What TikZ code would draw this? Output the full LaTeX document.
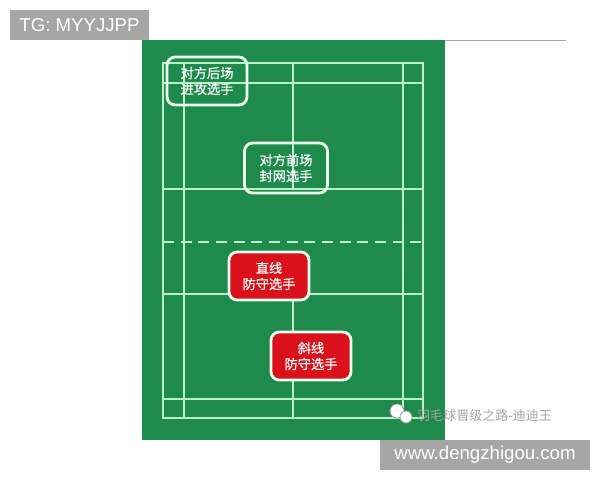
\documentclass[tikz,border=0pt]{standalone}
\usepackage{fontspec}
\setmainfont{Liberation Sans}
\newfontfamily\cjk[FakeBold=0.7]{Noto Sans CJK SC}
\newfontfamily\cjklight{Noto Sans CJK SC}
\usepackage{tikz}
\usetikzlibrary{positioning}
\definecolor{courtgreen}{RGB}{30,138,76}
\definecolor{courtline}{RGB}{185,240,200}
\definecolor{boxline}{RGB}{235,252,240}
\definecolor{defred}{RGB}{218,16,26}
\definecolor{tagbg}{RGB}{166,166,166}

\begin{document}
\begin{tikzpicture}[
  x=0.03cm, y=-0.03cm,
  court/.style={draw=courtline, line width=1.7pt},
  playerbox/.style={draw=boxline, line width=2.4pt, rounded corners=7pt, align=center,
                text=white, minimum width=2.4cm, minimum height=1.44cm, inner sep=0pt,
                font=\cjk\fontsize{11.3}{13.6}\selectfont},
  defbox/.style={playerbox, fill=defred},
  tag/.style={fill=tagbg, text=white, inner sep=0pt, font=\fontsize{15.9}{18}\selectfont}
]
\useasboundingbox (0,0) rectangle (600,480);
\fill[white] (0,0) rectangle (600,480);
% frame line and court
\draw[gray!70, line width=0.6pt] (445,40) -- (566,40);
\fill[courtgreen] (142,40) rectangle (445,440);
\draw[court] (163,63) rectangle (423,418);
\draw[court] (184,63) -- (184,418);
\draw[court] (403,63) -- (403,418);
\draw[court] (163,83) -- (423,83);
\draw[court] (163,399) -- (423,399);
\draw[court] (163,189) -- (423,189);
\draw[court] (163,294) -- (423,294);
\draw[court] (293,63) -- (293,189);
\draw[court] (293,294) -- (293,418);
\draw[court, dash pattern=on 0.33cm off 0.2cm] (163,242) -- (423,242);
% players
\node[playerbox] (backatk) at (207,81) {对方后场\\进攻选手};
\node[playerbox, minimum width=2.49cm, minimum height=1.5cm] (frontnet) at (286,168) {对方前场\\封网选手};
\node[defbox] (straightdef) at (269,276) {直线\\防守选手};
\node[defbox] (crossdef) at (311,356) {斜线\\防守选手};
% watermarks
\node[tag, minimum width=4.17cm, minimum height=0.9cm] (tg) at (79.5,25) {TG: MYYJJPP};
\node[tag, minimum width=6.3cm, minimum height=0.9cm] (site) at (485,455) {www.dengzhigou.com};
\draw[gray!80, fill=white, line width=0.6pt] (397,411) circle (0.21cm);
\draw[gray!80, fill=white, line width=0.6pt] (406,417) circle (0.18cm);
\node[text=gray!70, font=\cjklight\fontsize{11.1}{13}\selectfont, anchor=west, inner sep=0pt] (wx) at (417,416) {羽毛球晋级之路-迪迪王};
\end{tikzpicture}
\end{document}
